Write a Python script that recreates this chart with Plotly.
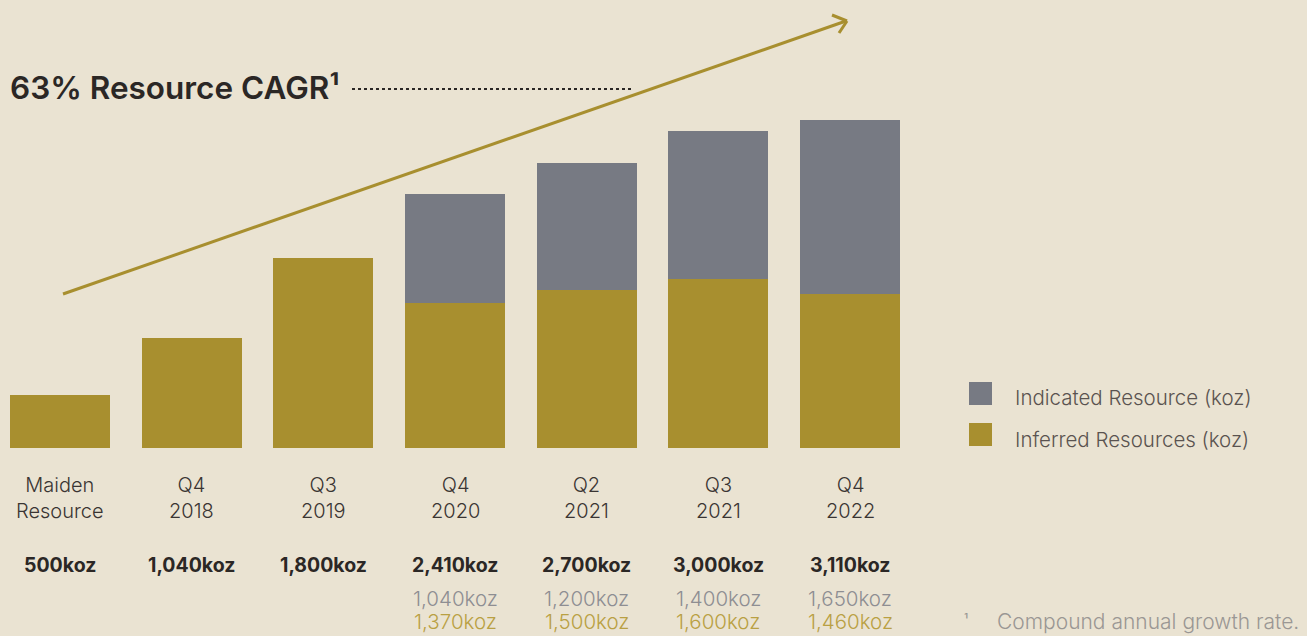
import plotly.graph_objects as go

# ---- data ----
categories = ["Maiden<br>Resource", "Q4<br>2018", "Q3<br>2019", "Q4<br>2020", "Q2<br>2021", "Q3<br>2021", "Q4<br>2022"]
inferred = [500, 1040, 1800, 1370, 1500, 1600, 1460]
indicated = [0, 0, 0, 1040, 1200, 1400, 1650]
totals = [500, 1040, 1800, 2410, 2700, 3000, 3110]
total_labels = ["500koz", "1,040koz", "1,800koz", "2,410koz", "2,700koz", "3,000koz", "3,110koz"]
indicated_labels = ["", "", "", "1,040koz", "1,200koz", "1,400koz", "1,650koz"]
inferred_labels = ["", "", "", "1,370koz", "1,500koz", "1,600koz", "1,460koz"]

W, H = 1307, 636
BG = "#EAE3D2"
GOLD = "#A88F2F"
GREY = "#777A83"
DARK = "#2B2725"
FONT = "Inter, Lato, sans-serif"

def py(p):  # pixel row -> paper y
    return 1 - p / H

def px(p):  # pixel col -> paper x
    return p / W

xs = list(range(len(categories)))

# axis geometry (px per unit)
sx = 131.67
x0 = -60 / sx
x1 = x0 + W / sx
sy = 0.1056
base_px = 448
top_px = 10
y_top = (base_px - top_px) / sy

fig = go.Figure()
fig.add_trace(go.Bar(x=xs, y=inferred, name="Inferred Resources (koz)", marker=dict(color=GOLD, line=dict(width=0)),
                     width=0.76, showlegend=False, hoverinfo="y+name"))
fig.add_trace(go.Bar(x=xs, y=indicated, name="Indicated Resource (koz)", marker=dict(color=GREY, line=dict(width=0)),
                     width=0.76, showlegend=False, hoverinfo="y+name"))

annotations = []
for i, c in enumerate(categories):
    annotations.append(dict(x=xs[i], y=py(498), xref="x", yref="paper", text=c, showarrow=False,
                            font=dict(family=FONT, size=20, color="#3A3533", weight=300),
                            xanchor="center", yanchor="middle", align="center"))
    annotations.append(dict(x=xs[i], y=py(565), xref="x", yref="paper", text=total_labels[i], showarrow=False,
                            font=dict(family=FONT, size=19.5, color=DARK, weight=700),
                            xanchor="center", yanchor="middle"))
    if indicated_labels[i]:
        annotations.append(dict(x=xs[i], y=py(598), xref="x", yref="paper", text=indicated_labels[i], showarrow=False,
                                font=dict(family=FONT, size=20.5, color="#8E8E92", weight=300),
                                xanchor="center", yanchor="middle"))
    if inferred_labels[i]:
        annotations.append(dict(x=xs[i], y=py(621), xref="x", yref="paper", text=inferred_labels[i], showarrow=False,
                                font=dict(family=FONT, size=20.5, color="#B9A043", weight=300),
                                xanchor="center", yanchor="middle"))

# title
annotations.append(dict(x=px(8), y=py(88), xref="paper", yref="paper", text="63% Resource CAGR¹", showarrow=False,
                        font=dict(family=FONT, size=31.5, color=DARK, weight=600), xanchor="left", yanchor="middle"))
# legend texts
annotations.append(dict(x=px(1013), y=py(397), xref="paper", yref="paper", text="Indicated Resource (koz)", showarrow=False,
                        font=dict(family=FONT, size=20.5, color="#5A5350", weight=300), xanchor="left", yanchor="middle"))
annotations.append(dict(x=px(1013), y=py(439), xref="paper", yref="paper", text="Inferred Resources (koz)", showarrow=False,
                        font=dict(family=FONT, size=20.5, color="#5A5350", weight=300), xanchor="left", yanchor="middle"))
# footnote
annotations.append(dict(x=px(962), y=py(619), xref="paper", yref="paper", text="¹", showarrow=False,
                        font=dict(family=FONT, size=14, color="#9A9794"), xanchor="left", yanchor="middle"))
annotations.append(dict(x=px(995), y=py(621), xref="paper", yref="paper", text="Compound annual growth rate.", showarrow=False,
                        font=dict(family=FONT, size=21, color="#9A9794", weight=300), xanchor="left", yanchor="middle"))

shapes = [
    # dotted leader
    dict(type="line", xref="paper", yref="paper", x0=px(352), x1=px(632), y0=py(89), y1=py(89),
         line=dict(color=DARK, width=2, dash="dot")),
    # growth arrow
    dict(type="line", xref="paper", yref="paper", x0=px(63), y0=py(294), x1=px(846), y1=py(21),
         line=dict(color=GOLD, width=3)),
    dict(type="line", xref="paper", yref="paper", x0=px(832), y0=py(15), x1=px(847), y1=py(21),
         line=dict(color=GOLD, width=3)),
    dict(type="line", xref="paper", yref="paper", x0=px(839), y0=py(33), x1=px(847), y1=py(21),
         line=dict(color=GOLD, width=3)),
    # legend swatches
    dict(type="rect", xref="paper", yref="paper", x0=px(969), x1=px(992), y0=py(382), y1=py(405),
         fillcolor=GREY, line=dict(width=0)),
    dict(type="rect", xref="paper", yref="paper", x0=px(969), x1=px(992), y0=py(423), y1=py(446),
         fillcolor=GOLD, line=dict(width=0)),
]

fig.update_layout(
    width=W, height=H,
    barmode="stack",
    paper_bgcolor=BG, plot_bgcolor=BG,
    margin=dict(l=0, r=0, t=0, b=0),
    xaxis=dict(range=[x0, x1], domain=[0, 1], visible=False, fixedrange=True),
    yaxis=dict(range=[0, y_top], domain=[py(base_px), py(top_px)], visible=False, fixedrange=True),
    annotations=annotations,
    shapes=shapes,
    showlegend=False,
    font=dict(family=FONT),
)

fig.write_html("out.html", config={"displayModeBar": False},
               post_script="document.body.style.margin='0';document.body.style.background='#EAE3D2';")
